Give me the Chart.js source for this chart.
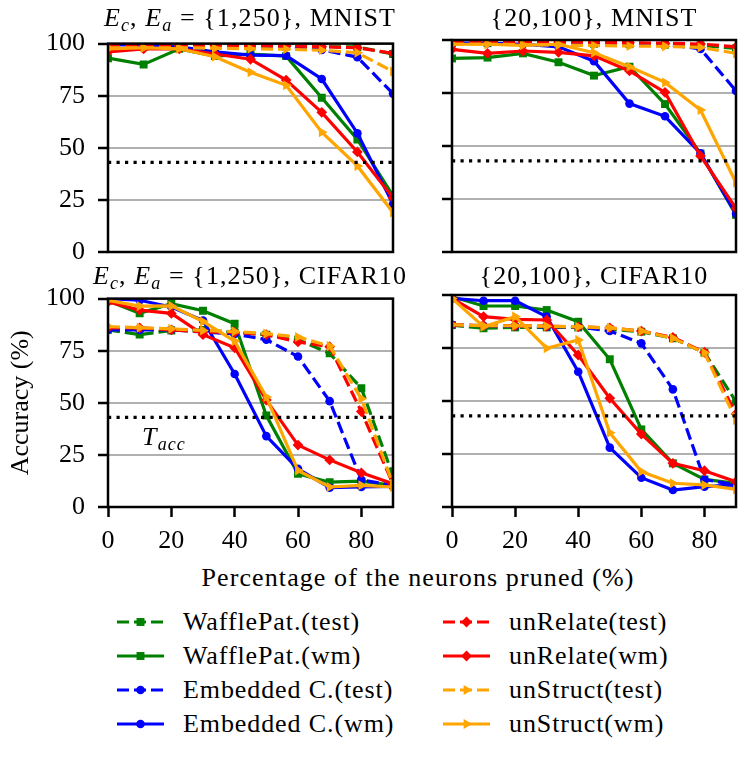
<!DOCTYPE html>
<html><head><meta charset="utf-8">
<script src="https://cdn.jsdelivr.net/npm/chart.js@4.4.1/dist/chart.umd.min.js"></script>
<style>
body{margin:0;background:#fff;}
#fig{position:relative;width:748px;height:759px;overflow:hidden;font-family:'Liberation Serif',serif;color:#000;background:#fff;}
canvas{position:absolute;}
.txt{position:absolute;font-size:26px;line-height:26px;height:26px;white-space:nowrap;letter-spacing:1.1px;}
.ctr{transform:translateX(-50%);}
.txt sub{font-size:18px;line-height:0;vertical-align:-5px;}
.lg{position:absolute;height:26px;}
.lg svg{position:absolute;left:0;top:1px;}
.lg span{position:absolute;top:0;font-size:26px;line-height:26px;white-space:nowrap;letter-spacing:0.9px;}
</style></head>
<body>
<div id="fig"></div>
<script>
// ---------------- data ----------------
const X_MNIST = [0, 11.25, 22.5, 33.75, 45, 56.25, 67.5, 78.75, 90];
const X_CIFAR = [0, 10, 20, 30, 40, 50, 60, 70, 80, 90];
const X_TICKS = [0, 20, 40, 60, 80];
const Y_TICKS = [0, 25, 50, 75, 100];
const T_ACC = 43;
const SERIES = ['WafflePat.(test)', 'WafflePat.(wm)', 'Embedded C.(test)', 'Embedded C.(wm)',
                'unRelate(test)', 'unRelate(wm)', 'unStruct(test)', 'unStruct(wm)'];

// Panel A: Ec,Ea = {1,250}, MNIST
const A_WAFFLE_TEST = [98.5, 98.5, 98.5, 98.5, 98.5, 98.5, 98.5, 98.4, 95];
const A_WAFFLE_WM   = [93, 90, 97.5, 94, 95, 94, 74, 54, 27];
const A_EMB_TEST    = [99.5, 99.5, 99.3, 99, 99, 98.5, 97, 93.5, 76];
const A_EMB_WM      = [99.5, 99.3, 98.5, 96, 94.5, 94.2, 83, 57, 23];
const A_REL_TEST    = [99, 99, 99, 99, 99, 98.8, 98.5, 98, 95.3];
const A_REL_WM      = [96, 97.5, 97.5, 95, 92.5, 82.5, 67, 48, 26];
const A_STR_TEST    = [98, 98, 98, 97.8, 97.5, 97.3, 96.8, 95.6, 86.6];
const A_STR_WM      = [97.5, 98, 97.5, 93.7, 86.3, 80, 57.5, 41.3, 19];

// Panel B: {20,100}, MNIST
const B_WAFFLE_TEST = [98.5, 98.5, 98.5, 98.3, 98.2, 98, 97.8, 97.5, 96];
const B_WAFFLE_WM   = [91.3, 91.7, 93.7, 89.5, 83.2, 87.4, 69.8, 46.5, 17.5];
const B_EMB_TEST    = [99, 99, 99, 99, 98.8, 98.5, 98, 95.8, 76];
const B_EMB_WM      = [98.5, 98.5, 98, 96.8, 90, 70, 64, 46.5, 18];
const B_REL_TEST    = [99, 99, 99, 99, 99, 98.7, 98.5, 98.1, 96.8];
const B_REL_WM      = [95.6, 93.7, 94.8, 94.2, 92.5, 85.4, 75.3, 45.3, 20.6];
const B_STR_TEST    = [98, 98, 97.8, 97.6, 97.4, 97.2, 97, 96.5, 93.7];
const B_STR_WM      = [98, 98, 97.5, 98, 94, 87.4, 80, 67, 32.7];

// Panel C: Ec,Ea = {1,250}, CIFAR10
const C_WAFFLE_TEST = [85, 82.7, 84.7, 85, 83.8, 82.7, 80.3, 73.7, 57, 15];
const C_WAFFLE_WM   = [98.9, 93, 97.6, 94.2, 87.9, 43.9, 15.9, 11.9, 12.4, 10.4];
const C_EMB_TEST    = [85, 85, 85, 84, 83, 80.3, 72.2, 50.8, 13, 10.4];
const C_EMB_WM      = [100, 99.2, 96, 89.5, 63.8, 34, 18.3, 9.3, 9.6, 9.9];
const C_REL_TEST    = [86, 86, 85, 84, 83.8, 82.7, 79.2, 76.9, 45.8, 11];
const C_REL_WM      = [98.4, 94.5, 92.9, 82.7, 76.4, 51.3, 29.7, 22.6, 16.4, 11.2];
const C_STR_TEST    = [86.6, 86, 85.5, 84.7, 84.2, 83.2, 81.6, 77.2, 52, 11];
const C_STR_WM      = [99.2, 96.4, 96.5, 89, 79.6, 52.8, 17.5, 9.6, 10.4, 9.6];

// Panel D: {20,100}, CIFAR10
const D_WAFFLE_TEST = [85.8, 84.3, 84.7, 84.7, 84.7, 83.8, 82.7, 79.6, 72.8, 49.7];
const D_WAFFLE_WM   = [99.2, 94.8, 94.8, 92.9, 87.4, 69.7, 36.6, 20.6, 13, 11.2];
const D_EMB_TEST    = [86, 85.5, 85.3, 85, 85, 83, 77.2, 55.5, 13, 10.4];
const D_EMB_WM      = [98.4, 97.3, 97.3, 89.8, 63.8, 28, 13.8, 8, 9.6, 10.4];
const D_REL_TEST    = [86, 85.5, 85.5, 85.3, 85, 84.5, 83, 80, 73, 43.9];
const D_REL_WM      = [98.4, 89.8, 88.5, 88.2, 71.7, 51.3, 34.4, 20.6, 17.1, 11.9];
const D_STR_TEST    = [86, 85.5, 85.5, 85.3, 85, 84.5, 83, 79.6, 72.8, 41];
const D_STR_WM      = [98.4, 85, 89.8, 74.9, 78.8, 35, 16.7, 11.2, 10.4, 8.3];

// ---------------- styles ----------------
const FONT = {family: "'Liberation Serif', serif", size: 26};
const COLORS = ['#008000', '#008000', '#0000ff', '#0000ff', '#ff0000', '#ff0000', '#ffa500', '#ffa500'];
const MARKERS = ['rect', 'rect', 'circle', 'circle', 'rectRot', 'rectRot', 'triangle', 'triangle'];
const RADII = {rect: 5.6, circle: 4.3, rectRot: 5.4, triangle: 5.8};
const DASHED = [true, false, true, false, true, false, true, false];
const LW = 3.2;

const fig = document.getElementById('fig');

const spinePlugin = {
  id: 'spines',
  afterDatasetsDraw(chart) {
    const {ctx, chartArea: a} = chart;
    ctx.save();
    ctx.strokeStyle = '#000';
    ctx.lineWidth = 2.5;
    ctx.strokeRect(a.left, a.top, a.right - a.left, a.bottom - a.top);
    ctx.restore();
  }
};

function makePanel(p) {
  const cv = document.createElement('canvas');
  cv.width = p.w; cv.height = p.h;
  cv.style.left = p.left + 'px'; cv.style.top = p.top + 'px';
  cv.style.width = p.w + 'px'; cv.style.height = p.h + 'px';
  fig.appendChild(cv);
  const datasets = p.series.map((ys, i) => ({
    label: SERIES[i],
    data: p.xs.map((x, j) => ({x: x, y: ys[j]})),
    borderColor: COLORS[i],
    backgroundColor: COLORS[i],
    pointBackgroundColor: COLORS[i],
    pointBorderColor: COLORS[i],
    pointBorderWidth: 0,
    borderWidth: LW,
    borderDash: DASHED[i] ? [12, 5] : [],
    pointStyle: MARKERS[i],
    pointRadius: RADII[MARKERS[i]],
    pointRotation: MARKERS[i] === 'triangle' ? 90 : 0,
    tension: 0,
    clip: 0,
    order: 10 - i
  }));
  datasets.push({
    label: 'T_acc',
    data: [{x: 0, y: T_ACC}, {x: 90, y: T_ACC}],
    borderColor: '#000',
    borderWidth: 3.2,
    borderDash: [3.2, 5.3],
    borderCapStyle: 'butt',
    pointRadius: 0,
    clip: 0,
    order: 0
  });
  new Chart(cv, {
    type: 'line',
    data: {datasets},
    plugins: [spinePlugin],
    options: {
      responsive: false,
      animation: false,
      events: [],
      layout: {padding: {left: 0, top: p.padTop, right: p.padRight, bottom: 0}},
      plugins: {legend: {display: false}, tooltip: {enabled: false}, title: {display: false}},
      scales: {
        x: {
          type: 'linear', min: 0, max: 90,
          afterBuildTicks: s => { s.ticks = X_TICKS.map(v => ({value: v})); },
          afterFit: s => { s.height = p.xh; },
          border: {display: false},
          grid: {drawOnChartArea: false, drawTicks: p.showX, tickLength: 10, tickWidth: 2.5, tickColor: '#000'},
          ticks: {display: p.showX, font: FONT, color: '#000', padding: 9, maxRotation: 0}
        },
        y: {
          type: 'linear', min: 0, max: 100,
          afterBuildTicks: s => { s.ticks = Y_TICKS.map(v => ({value: v})); },
          afterFit: s => { s.width = p.yw; },
          border: {display: false},
          grid: {color: '#b0b0b0', lineWidth: 2, tickLength: 10, tickWidth: 2.5, tickColor: '#000'},
          ticks: {display: p.showY, font: FONT, color: '#000', padding: 13},
          title: {display: p.showYTitle, text: 'Accuracy (%)', font: FONT, color: '#000', padding: {top: 6, bottom: 0}}
        }
      }
    }
  });
}

// plot areas: left panels x 108..393, right panels x 452..736; top y 40..252, bottom y 295..507
makePanel({left: 0, top: 15, w: 408, h: 267, padTop: 25, padRight: 15, xh: 30, yw: 108,
  showX: false, showY: true, showYTitle: false, xs: X_MNIST,
  series: [A_WAFFLE_TEST, A_WAFFLE_WM, A_EMB_TEST, A_EMB_WM, A_REL_TEST, A_REL_WM, A_STR_TEST, A_STR_WM]});
makePanel({left: 400, top: 15, w: 348, h: 267, padTop: 25, padRight: 12, xh: 30, yw: 52,
  showX: false, showY: false, showYTitle: false, xs: X_MNIST,
  series: [B_WAFFLE_TEST, B_WAFFLE_WM, B_EMB_TEST, B_EMB_WM, B_REL_TEST, B_REL_WM, B_STR_TEST, B_STR_WM]});
makePanel({left: 0, top: 270, w: 408, h: 287, padTop: 25, padRight: 15, xh: 50, yw: 108,
  showX: true, showY: true, showYTitle: true, xs: X_CIFAR,
  series: [C_WAFFLE_TEST, C_WAFFLE_WM, C_EMB_TEST, C_EMB_WM, C_REL_TEST, C_REL_WM, C_STR_TEST, C_STR_WM]});
makePanel({left: 400, top: 270, w: 348, h: 287, padTop: 25, padRight: 12, xh: 50, yw: 52,
  showX: true, showY: false, showYTitle: false, xs: X_CIFAR,
  series: [D_WAFFLE_TEST, D_WAFFLE_WM, D_EMB_TEST, D_EMB_WM, D_REL_TEST, D_REL_WM, D_STR_TEST, D_STR_WM]});

// ---------------- texts ----------------
function addText(html, cx, cy, cls) {
  const d = document.createElement('div');
  d.className = 'txt ' + (cls || 'ctr');
  d.innerHTML = html;
  d.style.left = cx + 'px';
  d.style.top = (cy - 13) + 'px';
  fig.appendChild(d);
  return d;
}
const EC = '<i>E</i><sub><i>c</i></sub>, <i>E</i><sub><i>a</i></sub>&nbsp;=&nbsp;{1,250}, ';
addText(EC + 'MNIST', 250, 18);
addText('{20,100}, MNIST', 594, 18);
addText(EC + 'CIFAR10', 250, 276);
addText('{20,100}, CIFAR10', 594, 276);
addText('<i>T</i><sub><i>acc</i></sub>', 164, 437);
addText('Percentage of the neurons pruned (%)', 418, 578);

// ---------------- legend ----------------
function markerSvg(kind, cx, cy, color) {
  const r = RADII[kind];
  if (kind === 'rect') { const s = r * Math.SQRT1_2; return `<rect x="${cx - s}" y="${cy - s}" width="${2 * s}" height="${2 * s}" fill="${color}"/>`; }
  if (kind === 'circle') return `<circle cx="${cx}" cy="${cy}" r="${r}" fill="${color}"/>`;
  if (kind === 'rectRot') return `<polygon points="${cx - r},${cy} ${cx},${cy - r} ${cx + r},${cy} ${cx},${cy + r}" fill="${color}"/>`;
  const pts = [0, 120, 240].map(a => { const t = (a + 90) * Math.PI / 180; return `${cx + Math.sin(t) * r},${cy - Math.cos(t) * r}`; }).join(' ');
  return `<polygon points="${pts}" fill="${color}"/>`;
}
const LEG_COL_X = [117, 443];
const LEG_ROW_Y = [622, 656, 690, 724];
SERIES.forEach((name, i) => {
  const col = Math.floor(i / 4), row = i % 4;
  const d = document.createElement('div');
  d.className = 'lg';
  d.style.left = LEG_COL_X[col] + 'px';
  d.style.top = (LEG_ROW_Y[row] - 13) + 'px';
  const dash = DASHED[i] ? 'stroke-dasharray="12,5"' : '';
  d.innerHTML = `<svg width="48" height="24"><line x1="0" y1="12" x2="47" y2="12" stroke="${COLORS[i]}" stroke-width="${LW}" ${dash}/>${markerSvg(MARKERS[i], 23.5, 12, COLORS[i])}</svg><span style="left:66px">${name}</span>`;
  fig.appendChild(d);
});
</script>
</body></html>
